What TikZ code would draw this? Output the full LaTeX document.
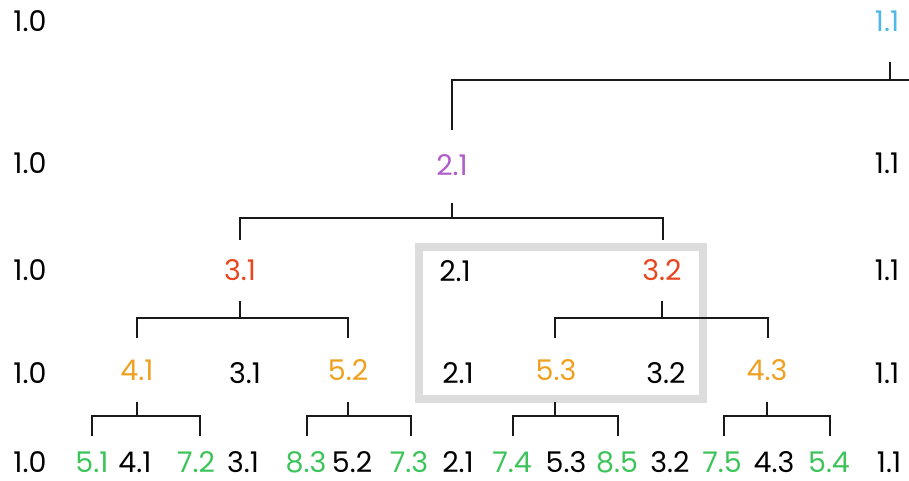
\documentclass[tikz,border=0pt]{standalone}
\usepackage{fontspec}
\setmainfont{Poppins}
\definecolor{ccyan}{HTML}{4FB8EA}
\definecolor{cpurple}{HTML}{B05CC8}
\definecolor{cred}{HTML}{E8461E}
\definecolor{corange}{HTML}{F0A020}
\definecolor{cgreen}{HTML}{3CC45A}
\definecolor{cbox}{HTML}{DCDCDC}
\begin{document}
\begin{tikzpicture}[x=1pt,y=-1pt,
  lbl/.style={inner sep=0pt,font=\fontsize{28.5}{31}\selectfont,text=black},
  conn/.style={line width=2.6pt,black!90},
  hl/.style={draw=cbox,line width=8pt}]
\useasboundingbox (0,0) rectangle (909,481);
% highlight box
\draw[hl] (419,247) rectangle (703,399);
% row 0
\node[lbl] (r0a) at (30,21) {1.0};
\node[lbl,text=ccyan] (r0b) at (887,21) {1.1};
% row 1
\node[lbl] (r1a) at (30,163) {1.0};
\node[lbl,text=cpurple] (r1b) at (452,165) {2.1};
\node[lbl] (r1c) at (887,163) {1.1};
% row 2
\node[lbl] (r2a) at (30,270) {1.0};
\node[lbl,text=cred] (r2b) at (240,270) {3.1};
\node[lbl] (r2c) at (455,271) {2.1};
\node[lbl,text=cred] (r2d) at (662,270) {3.2};
\node[lbl] (r2e) at (887,270) {1.1};
% row 3
\node[lbl] (r3a) at (30,373) {1.0};
\node[lbl,text=corange] (r3b) at (137,370) {4.1};
\node[lbl] (r3c) at (245,373) {3.1};
\node[lbl,text=corange] (r3d) at (348,370) {5.2};
\node[lbl] (r3e) at (458,373) {2.1};
\node[lbl,text=corange] (r3f) at (556,370) {5.3};
\node[lbl] (r3g) at (666,373) {3.2};
\node[lbl,text=corange] (r3h) at (767,370) {4.3};
\node[lbl] (r3i) at (887,373) {1.1};
% row 4
\node[lbl] (r4a) at (30,462) {1.0};
\node[lbl,text=cgreen] (r4b) at (92,462) {5.1};
\node[lbl] (r4c) at (135,462) {4.1};
\node[lbl,text=cgreen] (r4d) at (196,462) {7.2};
\node[lbl] (r4e) at (243,462) {3.1};
\node[lbl,text=cgreen] (r4f) at (306,462) {8.3};
\node[lbl] (r4g) at (352,462) {5.2};
\node[lbl,text=cgreen] (r4h) at (409,462) {7.3};
\node[lbl] (r4i) at (458,462) {2.1};
\node[lbl,text=cgreen] (r4j) at (512,462) {7.4};
\node[lbl] (r4k) at (566,462) {5.3};
\node[lbl,text=cgreen] (r4l) at (617,462) {8.5};
\node[lbl] (r4m) at (670,462) {3.2};
\node[lbl,text=cgreen] (r4n) at (722,462) {7.5};
\node[lbl] (r4o) at (774,462) {4.3};
\node[lbl,text=cgreen] (r4p) at (829,462) {5.4};
\node[lbl] (r4q) at (889,462) {1.1};
% level coordinates (top of stub, bar, bottom of stub)
\coordinate (t0) at (0,62);  \coordinate (b0) at (0,80);  \coordinate (e0) at (0,130);
\coordinate (t1) at (0,203); \coordinate (b1) at (0,218); \coordinate (e1) at (0,240);
\coordinate (t2) at (0,301); \coordinate (b2) at (0,318); \coordinate (e2) at (0,338);
\coordinate (t3) at (0,402); \coordinate (b3) at (0,416); \coordinate (e3) at (0,436);
\coordinate (redge) at (909,80);
% row 0 -> row 1
\draw[conn] ([xshift=3pt]r0b |- t0) -- ([xshift=3pt]r0b |- b0);
\draw[conn] (r1b |- e0) -- (r1b |- b0) -- (redge);
% row 1 -> row 2
\draw[conn] (r1b |- t1) -- (r1b |- b1);
\draw[conn] (r2b |- e1) -- (r2b |- b1) -- ([xshift=1pt]r2d |- b1) -- ([xshift=1pt]r2d |- e1);
% row 2 -> row 3
\draw[conn] (r2b |- t2) -- (r2b |- b2);
\draw[conn] (r3b |- e2) -- (r3b |- b2) -- (r3d |- b2) -- (r3d |- e2);
\draw[conn] (r2d |- t2) -- (r2d |- b2);
\draw[conn] ([xshift=-1pt]r3f |- e2) -- ([xshift=-1pt]r3f |- b2) -- ([xshift=1pt]r3h |- b2) -- ([xshift=1pt]r3h |- e2);
% row 3 -> row 4
\draw[conn] (r3b |- t3) -- (r3b |- b3);
\draw[conn] (r4b |- e3) -- (r4b |- b3) -- ([xshift=4pt]r4d |- b3) -- ([xshift=4pt]r4d |- e3);
\draw[conn] (r3d |- t3) -- (r3d |- b3);
\draw[conn] ([xshift=1pt]r4f |- e3) -- ([xshift=1pt]r4f |- b3) -- ([xshift=2pt]r4h |- b3) -- ([xshift=2pt]r4h |- e3);
\draw[conn] ([xshift=-1pt]r3f |- t3) -- ([xshift=-1pt]r3f |- b3);
\draw[conn] ([xshift=1pt]r4j |- e3) -- ([xshift=1pt]r4j |- b3) -- ([xshift=1pt]r4l |- b3) -- ([xshift=1pt]r4l |- e3);
\draw[conn] (r3h |- t3) -- (r3h |- b3);
\draw[conn] ([xshift=2pt]r4n |- e3) -- ([xshift=2pt]r4n |- b3) -- ([xshift=1pt]r4p |- b3) -- ([xshift=1pt]r4p |- e3);
\end{tikzpicture}
\end{document}
